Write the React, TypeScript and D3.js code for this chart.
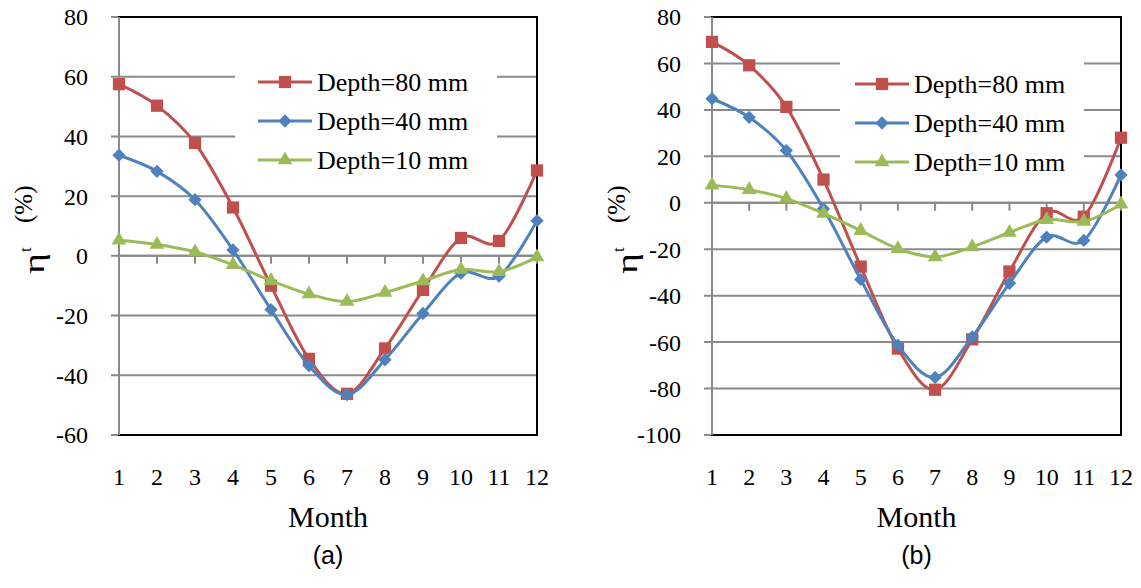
import React from "react";
import * as d3 from "d3";

// months on the category axis
const months = [1, 2, 3, 4, 5, 6, 7, 8, 9, 10, 11, 12];
const seriesNames = ["Depth=80 mm", "Depth=40 mm", "Depth=10 mm"];

// panel (a)
const a80 = [57.5, 50.3, 37.8, 16.2, -10, -34.5, -46.2, -31, -11.4, 6, 5, 28.6];
const a40 = [33.7, 28.3, 18.8, 2, -18, -36.8, -46.5, -34.8, -19.3, -5.8, -6.8, 11.8];
const a10 = [5.2, 3.8, 1.3, -3, -8.3, -12.8, -15.3, -12.3, -8.4, -4.6, -5.3, -0.4];
const aTicks = [-60, -40, -20, 0, 20, 40, 60, 80];

// panel (b)
const b80 = [69.3, 59.2, 41.3, 10, -27.5, -62.8, -80.5, -58.8, -29.6, -4.5, -6, 28];
const b40 = [44.8, 36.8, 22.5, -2.6, -33, -61.3, -75.2, -57.8, -34.7, -14.8, -16.2, 12];
const b10 = [7.6, 5.6, 1.8, -4.6, -12, -19.8, -23.3, -19, -12.8, -7.3, -8, -0.6];
const bTicks = [-100, -80, -60, -40, -20, 0, 20, 40, 60, 80];

const colors = ["#C0504D", "#4F81BD", "#9BBB59"];
const grid = "#8a8a8a";
const serif = '"Liberation Serif", "DejaVu Serif", serif';
const sans = '"Liberation Sans", Arial, sans-serif';

const marker = (i: number) => {
  if (i === 0) return d3.symbol(d3.symbolSquare, 150)();
  if (i === 1) return d3.symbol(d3.symbolSquare, 88)();
  return d3.symbol(d3.symbolTriangle, 95)();
};

const Panel = ({ series, ticks, x0, x1, legend, tag }: any) => {
  const yTop = 17;
  const yBot = 435;
  const x = d3.scaleLinear([1, 12], [x0, x1]);
  const y = d3.scaleLinear([ticks[0], ticks[ticks.length - 1]], [yBot, yTop]);
  const line = d3
    .line<number>()
    .x((_, i) => x(months[i]))
    .y((d) => y(d))
    .curve(d3.curveCardinal.tension(0));
  const cx = (x0 + x1) / 2;
  const st = { fontFamily: serif };

  return (
    <g>
      {/* gridlines */}
      {ticks.map((t: number) => (
        <line key={t} x1={x0 - 8} x2={x1} y1={y(t)} y2={y(t)} stroke={grid} strokeWidth={2} />
      ))}
      {/* plot border */}
      <rect x={x0} y={yTop} width={x1 - x0} height={yBot - yTop} fill="none" stroke="#000" strokeWidth={2} />
      {/* y axis */}
      <line x1={x0} x2={x0} y1={yTop} y2={yBot} stroke={grid} strokeWidth={2} />
      {/* x axis at zero with ticks */}
      <line x1={x0} x2={x1} y1={y(0)} y2={y(0)} stroke={grid} strokeWidth={2} />
      {months.map((m) => (
        <line key={m} x1={x(m)} x2={x(m)} y1={y(0)} y2={y(0) + 8} stroke={grid} strokeWidth={2} />
      ))}
      {ticks.map((t: number) => (
        <text key={t} x={x0 - 31} y={y(t)} dy="0.35em" textAnchor="end" style={st} fontSize={24}>
          {t}
        </text>
      ))}
      {months.map((m) => (
        <text key={m} x={x(m)} y={485} textAnchor="middle" style={st} fontSize={24}>
          {m}
        </text>
      ))}
      <text x={cx} y={527} textAnchor="middle" style={st} fontSize={30}>
        Month
      </text>
      <text x={cx} y={564} textAnchor="middle" style={{ fontFamily: sans }} fontSize={25}>
        {tag}
      </text>
      {/* y label */}
      <g transform={`translate(${x0 - 75},274) rotate(-90)`} style={st}>
        <text x={0} y={0} fontSize={30} textLength={21} lengthAdjust="spacingAndGlyphs">
          η
        </text>
        <text x={22} y={-13} fontSize={17}>
          t
        </text>
        <text x={51} y={-12} fontSize={25}>
          (%)
        </text>
      </g>
      {/* legend */}
      <rect x={legend.x} y={legend.y} width={legend.w} height={legend.h} fill="#fff" />
      {seriesNames.map((name, i) => {
        const ry = legend.row0 + i * 39;
        return (
          <g key={name}>
            <line x1={legend.lx} x2={legend.lx + 54} y1={ry} y2={ry} stroke={colors[i]} strokeWidth={3} />
            <path
              d={marker(i) as string}
              transform={`translate(${legend.lx + 27},${ry}) rotate(${i === 1 ? 45 : 0})`}
              fill={colors[i]}
            />
            <text x={legend.lx + 59} y={ry} dy="0.33em" style={st} fontSize={26}>
              {name}
            </text>
          </g>
        );
      })}
      {/* series */}
      {series.map((s: number[], i: number) => (
        <g key={i}>
          <path d={line(s) as string} fill="none" stroke={colors[i]} strokeWidth={3} />
          {s.map((v, j) => (
            <path
              key={j}
              d={marker(i) as string}
              transform={`translate(${x(months[j])},${y(v)}) rotate(${i === 1 ? 45 : 0})`}
              fill={colors[i]}
            />
          ))}
        </g>
      ))}
    </g>
  );
};

export default function App() {
  return (
    <div style={{ position: "absolute", left: 0, top: 0 }}>
      <svg width={1141} height={588} style={{ display: "block", background: "#fff" }}>
        <Panel
          series={[a80, a40, a10]}
          ticks={aTicks}
          x0={119}
          x1={537}
          tag="(a)"
          legend={{ x: 235, y: 57, w: 262, h: 127, lx: 258, row0: 82 }}
        />
        <Panel
          series={[b80, b40, b10]}
          ticks={bTicks}
          x0={712}
          x1={1121}
          tag="(b)"
          legend={{ x: 840, y: 60, w: 244, h: 127, lx: 855, row0: 84 }}
        />
      </svg>
    </div>
  );
}
